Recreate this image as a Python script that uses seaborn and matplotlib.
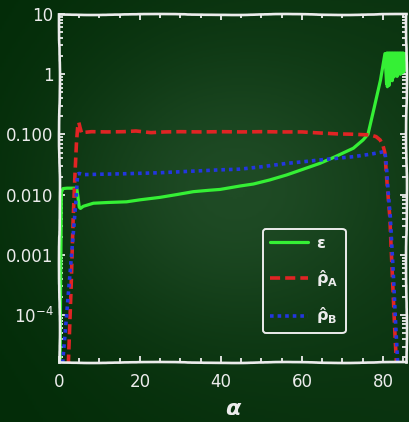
import numpy as np
import pandas as pd
import matplotlib
matplotlib.use("Agg")
import matplotlib.pyplot as plt
import matplotlib.ticker as mticker
from matplotlib.colors import LinearSegmentedColormap
import seaborn as sns

# ---------------- data ----------------
alpha_eps = [0.25, 0.4, 0.6, 1.0, 2.0, 3.0, 4.0, 4.4, 4.7, 5.0, 5.3, 6.0, 8.5, 12.0,
             16.7, 20.0, 24.9, 29.0, 33.2, 37.0, 39.8, 44.7, 48.0, 52.0, 56.2, 60.0,
             64.4, 68.0, 72.7, 75.1, 76.3, 77.8, 79.4, 80.5,
             80.9, 81.0, 81.1, 81.2, 81.3, 81.4, 81.5, 81.6, 81.7, 81.8, 81.9, 82.0,
             82.1, 82.2, 82.3, 82.4, 82.5, 82.6, 82.7, 82.8, 82.9, 83.0, 83.1, 83.2,
             83.3, 83.4, 83.5, 83.6, 83.7, 83.8, 83.9, 84.0, 84.1, 84.2, 84.3, 84.4,
             84.5, 84.6, 84.7, 84.8, 84.9, 85.0, 85.1, 85.2, 85.3, 85.4]
eps = [1e-5, 3e-4, 0.0110, 0.0126, 0.0128, 0.0128, 0.0128, 0.0125, 0.0090, 0.0062,
       0.0059, 0.0064, 0.0072, 0.0074, 0.0076, 0.0082, 0.0090, 0.0100, 0.0112, 0.0118,
       0.0122, 0.0139, 0.0150, 0.0175, 0.0212, 0.026, 0.033, 0.042, 0.059, 0.081,
       0.100, 0.27, 0.80, 2.2,
       0.70, 2.25, 0.62, 2.2, 0.75, 2.25, 0.65, 2.2, 0.85, 2.25, 0.80, 2.2,
       0.95, 2.25, 0.78, 2.2, 1.0, 2.25, 0.90, 2.2, 1.0, 2.25, 0.95, 2.2,
       1.05, 2.25, 0.92, 2.2, 1.0, 2.25, 1.05, 2.2, 1.1, 2.25, 1.0, 2.2,
       1.1, 2.25, 1.05, 2.2, 1.1, 2.25, 1.1, 2.2, 1.15, 2.2]

alpha_A = [2.3, 3.0, 3.5, 3.95, 4.3, 4.6, 4.9, 5.2, 5.6, 6.2, 8.0, 12.0, 16.0, 19.0,
           22.7, 26.0, 30.0, 35.0, 40.0, 45.0, 50.0, 55.0, 60.0, 64.0, 68.7, 72.0,
           76.8, 78.3, 79.3, 80.0, 80.5, 80.9, 81.3, 81.7, 82.3, 83.0, 83.5]
rho_A = [1.5e-5, 3e-4, 4e-3, 0.022, 0.070, 0.130, 0.158, 0.130, 0.104, 0.108, 0.111,
         0.110, 0.111, 0.114, 0.107, 0.110, 0.111, 0.110, 0.111, 0.110, 0.111, 0.110,
         0.110, 0.106, 0.102, 0.101, 0.098, 0.092, 0.081, 0.066, 0.049, 0.020, 0.009,
         0.0043, 5e-4, 4.4e-5, 1e-5]

alpha_B = [0.9, 2.0, 3.0, 3.8, 4.2, 4.6, 5.0, 6.0, 10.0, 16.0, 24.9, 30.0, 39.8, 44.7,
           50.0, 56.2, 60.0, 65.0, 72.7, 77.0, 80.5, 80.9, 81.3, 81.8, 82.5, 83.2, 83.8]
rho_B = [1.6e-5, 1.26e-4, 8.3e-4, 3.8e-3, 8.1e-3, 0.022, 0.0225, 0.0215, 0.0218,
         0.0222, 0.0231, 0.0240, 0.0258, 0.0265, 0.029, 0.033, 0.035, 0.038, 0.0427,
         0.047, 0.052, 0.028, 0.011, 0.0045, 6e-4, 6e-5, 1e-5]

ytick_vals = [1e-4, 1e-3, 1e-2, 1e-1, 1, 10]
ytick_labels = ["10$^{-4}$", "0.001", "0.010", "0.100", "1", "10"]
xtick_vals = [0, 20, 40, 60, 80]
labels = ["ε", r"$\mathbf{\hat{\rho}_A}$", r"$\mathbf{\hat{\rho}_B}$"]

# ---------------- style ----------------
sns.set_theme(style="white")
plt.rcParams["font.family"] = ["DejaVu Sans"]
plt.rcParams["mathtext.fontset"] = "dejavusans"
chalk = "#ececec"

fig = plt.figure(figsize=(4.10, 4.22), dpi=100)

# chalkboard background (smooth shading)
bg = fig.add_axes([0, 0, 1, 1], zorder=-5)
yy, xx = np.mgrid[0:1:200j, 0:1:200j]
shade = 0.55 * np.exp(-((xx - 0.55) ** 2 / 0.18 + (yy - 0.45) ** 2 / 0.12)) + 0.15 * xx
cmap = LinearSegmentedColormap.from_list("board", ["#032c08", "#1f4b25"])
bg.imshow(shade, cmap=cmap, aspect="auto", extent=(0, 1, 0, 1), origin="upper")
bg.set_axis_off()
fig.patch.set_facecolor("#0a3410")

ax = fig.add_axes([59 / 410, 1 - 362 / 422, 347 / 410, 348 / 422])
ax.set_facecolor("none")

df_e = pd.DataFrame({"alpha": alpha_eps, "val": eps})
df_a = pd.DataFrame({"alpha": alpha_A, "val": rho_A})
df_b = pd.DataFrame({"alpha": alpha_B, "val": rho_B})

sns.lineplot(data=df_e, x="alpha", y="val", ax=ax, color="#35f035", lw=2.3,
             estimator=None, sort=False, label=labels[0])
sns.lineplot(data=df_a, x="alpha", y="val", ax=ax, color="#e02424", lw=2.6,
             estimator=None, sort=False, label=labels[1])
sns.lineplot(data=df_b, x="alpha", y="val", ax=ax, color="#2336e0", lw=2.6,
             estimator=None, sort=False, label=labels[2])
ln_e, ln_a, ln_b = ax.lines[:3]
ln_a.set_dashes((2.8, 1.4))
ln_b.set_dashes((1.0, 1.1))

ax.set_yscale("log")
ax.set_xlim(0, 85.7)
ax.set_ylim(1.66e-5, 10)

ax.set_xticks(xtick_vals)
ax.xaxis.set_minor_locator(mticker.MultipleLocator(5))
ax.set_yticks(ytick_vals)
ax.set_yticklabels(ytick_labels)
ax.yaxis.set_minor_locator(mticker.LogLocator(base=10, subs=np.arange(2, 10), numticks=20))
ax.yaxis.set_minor_formatter(mticker.NullFormatter())

ax.tick_params(which="both", direction="in", colors=chalk, top=True, right=True,
               bottom=True, left=True, width=1.3)
ax.tick_params(which="major", length=4, labelsize=12, labelcolor=chalk)
ax.tick_params(which="minor", length=3)
ax.tick_params(axis="x", which="major", pad=8)
ax.tick_params(axis="y", which="major", pad=4)

for sp in ax.spines.values():
    sp.set_color(chalk)
    sp.set_linewidth(1.9)
    sp.set_sketch_params(scale=0.5, length=250, randomness=8)

ax.set_xlabel("α", color=chalk, fontsize=16, fontweight="bold", style="italic", labelpad=6)
ax.set_ylabel("")

leg = ax.legend(handles=[ln_e, ln_a, ln_b], labels=labels, loc="lower left",
                bbox_to_anchor=(0.587, 0.082), borderaxespad=0, frameon=True,
                fancybox=True, handlelength=2.4, handletextpad=0.5,
                labelspacing=1.05, borderpad=0.45, fontsize=11.5)
fr = leg.get_frame()
fr.set_facecolor("none")
fr.set_edgecolor(chalk)
fr.set_linewidth(1.4)
fr.set_alpha(None)
for t in leg.get_texts():
    t.set_color(chalk)
    t.set_fontweight("bold")

fig.savefig("out.png", dpi=100, facecolor=fig.get_facecolor())
